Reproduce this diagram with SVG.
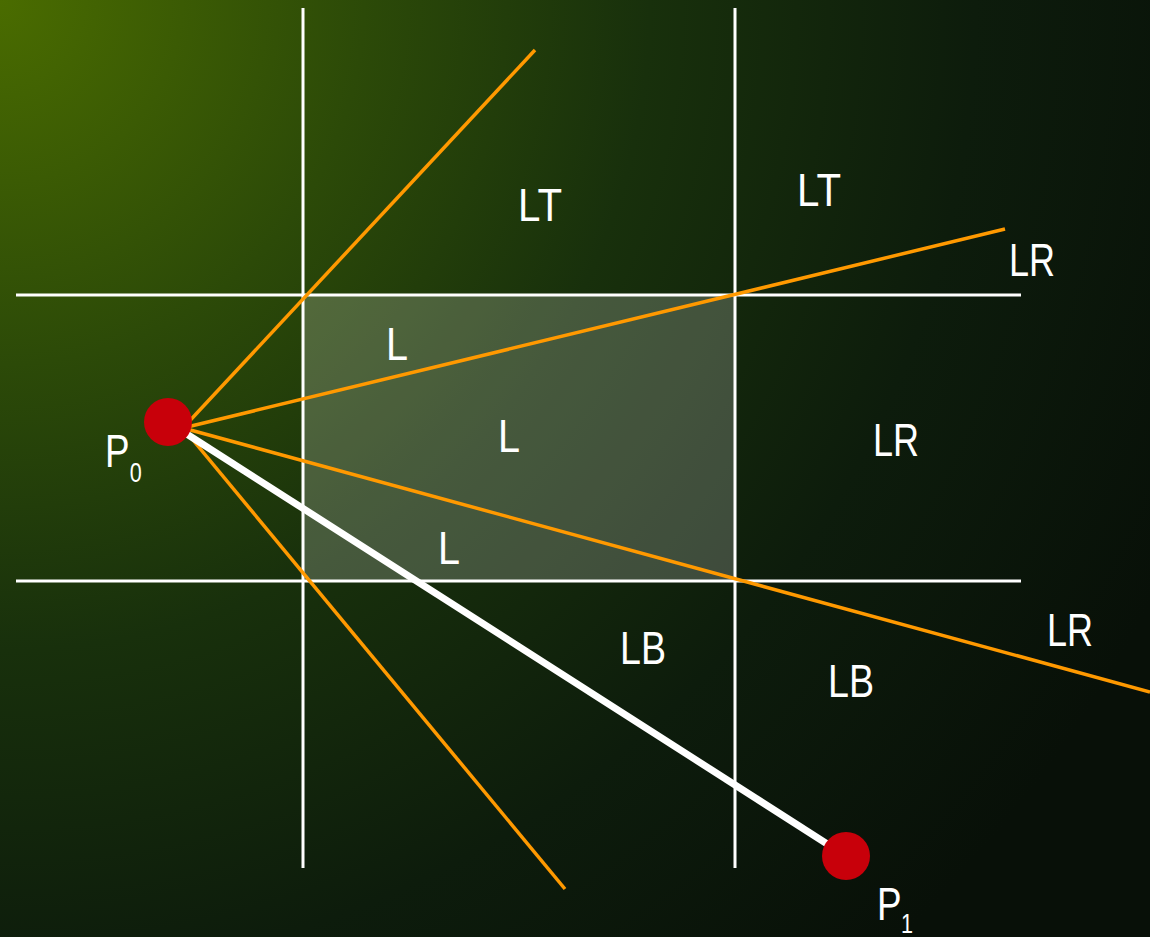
<svg xmlns="http://www.w3.org/2000/svg" width="1150" height="937" viewBox="0 0 1150 937">
<defs>
<radialGradient id="bg" gradientUnits="userSpaceOnUse" cx="0" cy="0" r="1300">
<stop offset="0" stop-color="#4a6c00"/>
<stop offset="0.28" stop-color="#2c4a08"/>
<stop offset="0.5" stop-color="#18300c"/>
<stop offset="0.75" stop-color="#0d1c0c"/>
<stop offset="1" stop-color="#081008"/>
</radialGradient>
<style>
.grid{stroke:#ffffff;stroke-width:3;fill:none}
.ray{stroke:#ff9900;stroke-width:3.5;fill:none}
.seg{stroke:#ffffff;stroke-width:7;fill:none}
.pt{fill:#c8000a}
.lbl{font-family:"Liberation Sans",Arial,sans-serif;font-size:46px;fill:#ffffff}
</style>
</defs>
<rect width="1150" height="937" fill="url(#bg)"/>
<g id="window">
<rect x="303" y="295" width="432" height="286" fill="#ffffff" fill-opacity="0.2"/>
</g>
<g id="grid">
<line class="grid" x1="303" y1="8" x2="303" y2="868"/>
<line class="grid" x1="735" y1="8" x2="735" y2="868"/>
<line class="grid" x1="16" y1="295" x2="1021" y2="295"/>
<line class="grid" x1="16" y1="581" x2="1021" y2="581"/>
</g>
<g id="connectors">
<line class="ray" x1="183" y1="428" x2="535" y2="50"/>
<line class="ray" x1="183" y1="428" x2="1005" y2="229"/>
<line class="ray" x1="183" y1="428" x2="1150" y2="692"/>
<line class="ray" x1="183" y1="428" x2="565" y2="889"/>
<line class="seg" x1="168" y1="422" x2="846" y2="856"/>
</g>
<g id="P0">
<circle class="pt" cx="168" cy="422" r="24"/>
<text class="lbl" transform="translate(105,467) scale(0.8,1)"><tspan x="0" y="0">P</tspan><tspan x="31" y="15" font-size="27">0</tspan></text>
</g>
<g id="P1">
<circle class="pt" cx="846" cy="856" r="24"/>
<text class="lbl" transform="translate(877,920) scale(0.8,1)"><tspan x="0" y="0">P</tspan><tspan x="30" y="13" font-size="27">1</tspan></text>
</g>
<g id="labels">
<text class="lbl" x="518" y="221" textLength="44" lengthAdjust="spacingAndGlyphs">LT</text>
<text class="lbl" x="797" y="206" textLength="44" lengthAdjust="spacingAndGlyphs">LT</text>
<text class="lbl" x="1009" y="276" textLength="46" lengthAdjust="spacingAndGlyphs">LR</text>
<text class="lbl" x="386" y="360" textLength="22" lengthAdjust="spacingAndGlyphs">L</text>
<text class="lbl" x="498" y="452" textLength="22" lengthAdjust="spacingAndGlyphs">L</text>
<text class="lbl" x="873" y="456" textLength="46" lengthAdjust="spacingAndGlyphs">LR</text>
<text class="lbl" x="438" y="564" textLength="22" lengthAdjust="spacingAndGlyphs">L</text>
<text class="lbl" x="620" y="664" textLength="46" lengthAdjust="spacingAndGlyphs">LB</text>
<text class="lbl" x="1047" y="646" textLength="46" lengthAdjust="spacingAndGlyphs">LR</text>
<text class="lbl" x="828" y="697" textLength="46" lengthAdjust="spacingAndGlyphs">LB</text>
</g>
</svg>
